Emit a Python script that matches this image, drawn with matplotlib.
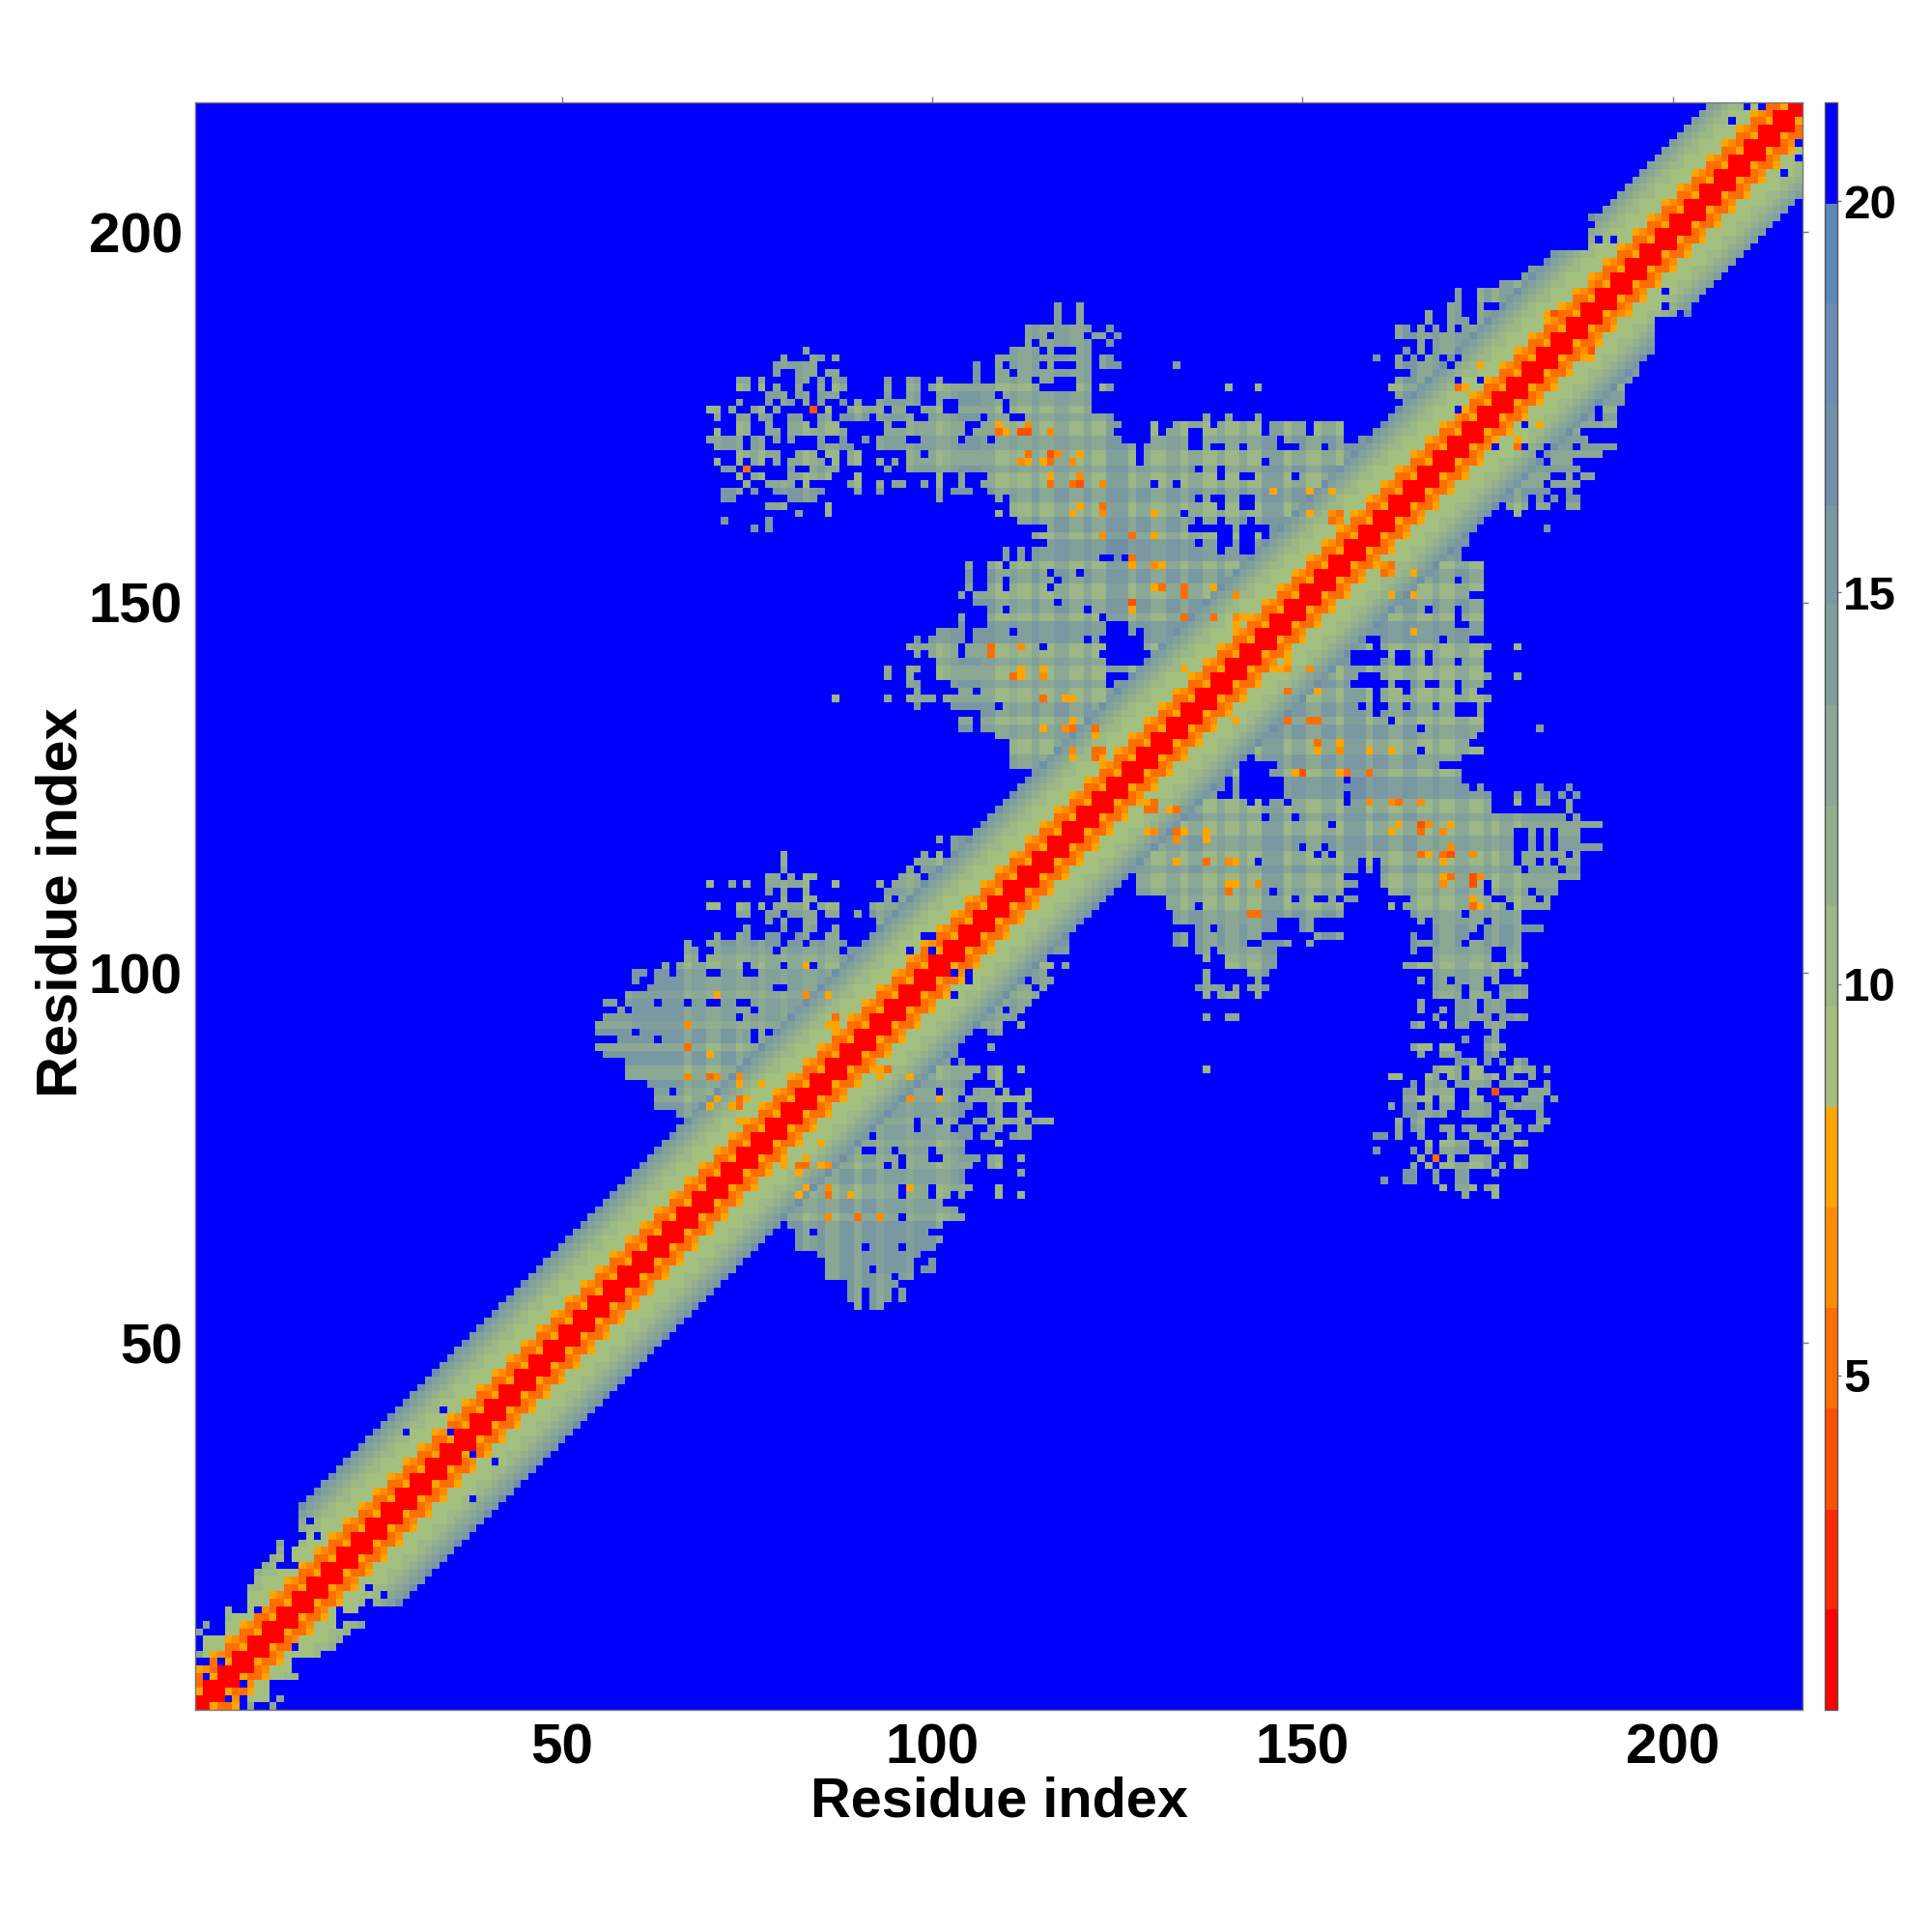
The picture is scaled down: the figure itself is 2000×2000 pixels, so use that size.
import numpy as np
import matplotlib
matplotlib.use('Agg')
import matplotlib.pyplot as plt
from matplotlib.colors import ListedColormap, BoundaryNorm
from matplotlib.cm import ScalarMappable

plt.rcParams['font.family'] = ['Liberation Sans', 'DejaVu Sans']
plt.rcParams['font.weight'] = 'bold'

N_RES = 217
LEVELS = [0.73, 2.01, 3.29, 4.58, 5.86, 7.14, 8.43, 9.71, 10.99, 12.27, 13.56,
          14.84, 16.12, 17.41, 18.69, 19.97, 21.26]
COLOURS = ['#FF0000', '#FF2800', '#FF5000', '#FF6E00', '#FF8C00', '#FFA500',
           '#A3C07F', '#9BB886', '#93B08D', '#8AA894', '#82A09B', '#7A98A2',
           '#7090AA', '#6A8CB2', '#5B88B8', '#0000FF']
FAR = 21.0

# distance by offset from the diagonal, two values because it alternates
BAND_DIST = [(1.4, 1.4), (1.4, 1.4), (1.4, 7.8), (5.2, 5.2), (6.5, 5.2), (9.0, 7.8),
             (9.0, 9.0), (9.0, 9.0), (9.0, 10.3), (10.3, 10.3), (11.6, 11.6),
             (12.9, 12.9), (14.2, 14.2), (15.5, 16.8)]
# last residue reached by the band for residues 1..14
EARLY_REACH = [6, 10, 10, 10, 14, 13, 13, 17, 19, 20, 21, 23, 19, 22]

# per residue shade of the contact patches, 0 light .. 9 dark
RES_SHADE = ("3333333333" "3333333333" "3333333333" "3333333333" "3333333333"
             "4444444445" "5555551441" "1441241442" "4412411551" "5524442444"
             "1245554411" "3114114411" "4116661441" "1441551141" "1411666155"
             "1155166615" "5115511411" "4411414414" "4444444444" "3333333333"
             "3333333333" "3333333")

# row residue -> columns right of the diagonal
LOWER_ROWS = {
    1: "8 11", 2: "12",
    70: "172 176", 71: "169 171-173 175-176", 72: "161 164-165 168 171-172",
    73: "164-165 168 171-172 176", 74: "165 167 169-175 177 179-180",
    75: "166 168 170 173-175 179-180", 76: "160 165 167 169-172 176",
    77: "167 169-172 175-176 179-180", 78: "160-161 163 166 170 173-175 177-178",
    79: "163 165-166 169-170 172-173 176 178-179 181-182", 80: "163 165-166 177-178 182-183",
    81: "164-169 172-175 177 182", 82: "162 164-165 167 169-170 173-175 178-182",
    83: "164-167 169-170 173-174 177-178 180-182 184", 84: "164-165 167-170 173 176 181-183",
    85: "165 167-169 171-175 177-180 183", 86: "162-163 167-168 170-171 173-176 178 181",
    87: "137 168-171 173-174 178-181 183", 88: "171-173 175 177 179-180",
    89: "166 169-171 175-176", 90: "165-167 169-170 175-177", 91: "172 175-176", 92: "176",
    93: "165-166 169 171-172 175-177", 94: "137 140-141 168 171-175 177-180",
    95: "166 169 171-173 175-177", 96: "166 171-173 175-177",
    97: "137 139-141 144 168-171 173-175 177-180", 98: "136-139 141 143-145 168-171 173-174 177-180",
    99: "137 144 166 168-169 171-174 176", 100: "137 143-145 168-176 179",
    101: "140-146 164-180", 102: "137 140-146 168-175 178-179",
    103: "136-137 139-146 165 168-175 178-179", 104: "133-134 136-142 145-148 151 165-171 173-179",
    105: "133-134 136-144 152-155 165 168-172 175-179", 106: "136-137 139-146 150-151 168-173 175-182",
    107: "133-146 150-151 166 168-174 176-179", 108: "133-155 165-171 173-179",
    109: "132-135 137-155 162 164-177 179-183", 110: "132-148 150-151 154 156-157 165-175 178-181 183",
    111: "129-145 147-155 162-174 176-180 182-184", 112: "129-157 161-174 176-184",
    113: "129-155 161-187", 114: "129-157 159 161-179 181-184 186-187",
    115: "129-143 145-157 159 161-178 180-181 183 185-187", 116: "129-151 153 155-178 180-185 187",
    117: "129-149 151-152 154-178 181 183 185-190", 118: "129-178 181 183 185-187",
    119: "129-178 181 183 185-187", 120: "129-153 155-190", 121: "129-144 146-148 150-185 187",
    122: "129-175 186", 123: "129-142 144 146-147 149-155 157-175 179 182-183 186",
    124: "129-138 141 148-155 157-175 179 182-183 185 187", 125: "129-139 141 148-172 174 182 186",
    126: "129-139 141 148-155 157-171", 127: "129-139 141 146-155 157-171",
    128: "129-141 147-168", 129: "130-142 144-171",
    169: "170-186", 170: "171-190", 171: "172-190 192", 172: "173-188", 173: "174-187",
    174: "175-192", 175: "176-189 191-192", 176: "177-189 191-192", 177: "178-193",
    178: "179-193", 179: "180-193", 180: "181-194", 181: "182-190 192-195", 182: "183-190 192-195",
    183: "184-196", 184: "185-189 192-197", 185: "186-189 192-197", 186: "187-196", 187: "188-196",
    188: "189-196", 189: "190-194 196 199-200", 190: "191-201", 191: "192-202",
}

# row residue -> columns left of the diagonal, an open end runs up to the band
UPPER_ROWS = {
    80: "67-", 81: "66-76 78-", 82: "63-", 83: "63-", 84: "63-64 66-", 85: "62-", 86: "59-", 87: "59-",
    88: "59-", 89: "56-", 90: "55-", 91: "58-62 64-75 77 79-", 92: "55-59 61-75 77 79-", 93: "55-",
    94: "56-73 75-", 95: "58 60-75 77-", 96: "56-57 59-62 64-66 68-69 72-73 76-", 97: "59-",
    98: "62-78 81-", 99: "60 63-", 100: "60-61 63-64 66-69 72-74 77-", 101: "64 66-74 76-79 81-83 85-",
    102: "67-68 70-", 103: "67-68 71-78 80-87 89-97 99-100 102-", 104: "67 70-79 81-82 84-88 92-",
    105: "71 74-75 78-79 82-83 86-87 92-98 101-", 106: "75 80 83-84 87 93-", 107: "78 80 83-84 93-100 103-",
    108: "74-75 78-79 81-84 86-87 90 92-97 99-100 102-", 109: "70-71 74-75 77 79-83 85-87 92-100 102-103 105-",
    110: "80 83-84 94 96-97 99-", 111: "78 80 83 94-", 112: "70 73 75 78-83 87 93 95-102 104-",
    113: "78-79 81 83-84 96-98 100 102-", 114: "80 97 99-", 115: "80 98-", 116: "80 99 101 103-",
    117: "103-", 118: "101 103-", 127: "114-", 128: "111-",
    174: "130 133-137 139-144 146-150 152-155 161-", 175: "137 140 144 163-", 176: "164-170 172-",
    177: "165-", 178: "163-", 179: "140 144 162-", 180: "163-170 172-173 175-", 181: "165-",
    182: "133 163-169 171-", 183: "160 163 165 167-168 170 172-", 184: "164 166 168-", 185: "166 168-",
    186: "163-", 187: "163-164 166 168 170 172 174-", 188: "167 170-171 174-", 189: "167 170-171 174-",
    190: "174 177-183 186-", 191: "171 174-180 183 186-", 192: "177-", 193: "177-", 194: "180-",
    195: "181 183-187 190-", 196: "183-187 189-", 197: "184-185 188 190-",
}

# central patch: rows 144..173 are filled from residue 130 to the band, minus these
CORE_FIRST_COL = 130
CORE_ROWS = (144, 173)
CORE_HOLES = {
    173: "131 135-136 145 151 156-159", 172: "135-136 147 156-157 159", 171: "135-136 138-139 142 147-149 153",
    169: "145", 168: "136 139", 167: "139 142-143 149", 166: "130 133", 164: "136 138-139 142-143",
    163: "139 142-143", 162: "134", 161: "136 139 143", 160: "135-140 142-145 147",
    159: "139-140 142-143 145", 158: "136 139-140 142-143", 157: "139 142-143", 156: "143",
    149: "146", 145: "132",
}

# single blue cells (col, row)
HOLES = [(212, 217), (210, 217), (208, 215), (34, 41), (29, 38), (35, 38), (5, 2), (7, 2), (7, 4), (2, 7), (4, 7),
         (9, 14), (12, 20), (13, 20), (14, 20), (14, 23), (15, 24), (16, 26), (17, 24), (186, 199), (187, 199),
         (188, 199), (190, 199), (192, 199), (187, 200), (188, 200), (188, 201), (189, 201), (185, 198), (186, 198),
         (187, 198), (188, 198), (171, 176), (171, 180), (171, 183), (171, 187), (170, 182), (169, 183), (174, 180),
         (84, 101), (103, 97), (103, 100), (105, 100), (105, 99), (101, 84), (104, 83), (105, 88), (105, 89), (105, 90)]

# cells far below their surroundings (col, row, distance)
HOT_CELLS = [
    (83, 101, 7.8), (71, 97, 7.8), (83, 97, 6.5), (86, 97, 7.8), (87, 94, 5.2), (86, 93, 6.5), (87, 93, 7.8),
    (67, 93, 6.5), (67, 90, 5.2), (70, 89, 7.8), (67, 86, 6.5), (70, 86, 5.2), (71, 86, 6.5), (74, 86, 6.5),
    (74, 85, 7.8), (77, 85, 7.8), (71, 83, 7.8), (74, 83, 5.2), (75, 83, 7.8), (70, 82, 7.8), (73, 82, 7.8),
    (74, 82, 5.2), (77, 82, 7.8), (74, 80, 7.8), (87, 93, 7.8), (93, 87, 7.8), (94, 87, 5.2), (86, 93, 7.8),
    (97, 86, 7.8), (97, 83, 6.5), (101, 83, 7.8),
    (127, 155, 7.8), (127, 156, 5.2), (127, 159, 5.2), (123, 159, 6.5), (123, 162, 6.5), (123, 163, 5.2),
    (123, 166, 6.5), (120, 163, 7.8), (120, 166, 3.9), (120, 167, 6.5), (120, 170, 7.8), (119, 162, 7.8),
    (119, 166, 5.2), (119, 169, 6.5), (117, 170, 6.5), (116, 166, 5.2), (116, 167, 7.8), (116, 169, 5.2),
    (116, 170, 3.9), (116, 173, 6.5), (115, 169, 7.8), (113, 169, 7.8), (113, 170, 5.2), (113, 173, 3.9),
    (113, 174, 6.5), (112, 169, 6.5), (112, 173, 3.9), (110, 173, 7.8), (109, 173, 5.2), (109, 174, 7.8),
    (75, 168, 5.2), (84, 176, 3.9),
    (123, 129, 7.8), (123, 130, 5.2), (122, 129, 5.2), (122, 130, 5.2), (122, 132, 7.8), (122, 133, 5.2),
    (119, 129, 7.8), (119, 130, 6.5), (119, 133, 5.2), (119, 134, 7.8), (119, 137, 7.8), (118, 137, 7.8),
    (118, 133, 6.5), (115, 133, 7.8), (115, 137, 5.2), (115, 140, 6.5), (115, 141, 7.8), (112, 140, 7.8),
    (112, 141, 7.8), (112, 144, 6.5), (111, 140, 5.2), (108, 143, 5.2), (108, 144, 5.2),
    (130, 162, 7.8), (130, 159, 7.8), (130, 155, 6.5), (131, 155, 7.8), (130, 152, 7.8), (131, 152, 5.2),
    (134, 152, 5.2), (134, 151, 5.2), (138, 152, 7.8), (141, 151, 6.5), (145, 150, 7.8), (134, 148, 5.2),
    (138, 148, 5.2), (141, 148, 5.2), (142, 148, 6.5), (141, 147, 7.8), (134, 141, 7.8), (138, 148, 5.2),
    (141, 134, 7.8), (148, 138, 5.2), (152, 138, 7.8), (148, 134, 5.2), (151, 134, 5.2), (152, 134, 5.2),
    (152, 131, 5.2), (152, 130, 7.8), (155, 131, 7.8), (155, 130, 6.5), (159, 130, 7.8), (162, 130, 7.8),
    (148, 142, 7.8), (148, 141, 6.5), (151, 141, 6.5), (162, 151, 7.8), (161, 155, 6.5), (162, 155, 5.2),
    (161, 154, 6.5), (162, 154, 7.8), (154, 162, 6.5), (155, 162, 5.2), (154, 161, 5.2), (151, 162, 7.8),
    (146, 165, 7.8), (151, 165, 7.8), (154, 165, 7.8), (127, 150, 3.9), (127, 149, 7.8),
    (174, 182, 7.8), (171, 179, 5.2), (172, 179, 7.8), (172, 176, 7.8), (171, 175, 6.5), (182, 174, 7.8),
    (179, 172, 7.8), (179, 171, 5.2), (189, 184, 5.2), (189, 183, 7.8), (184, 189, 3.9), (193, 189, 6.5),
]


def parse_cols(text, row):
    cols = []
    for part in text.split():
        if part.endswith('-'):
            cols.extend(range(int(part[:-1]), row))
        elif '-' in part:
            lo, hi = part.split('-')
            cols.extend(range(int(lo), int(hi) + 1))
        else:
            cols.append(int(part))
    return cols


def build_matrix():
    shade = [int(c) for c in RES_SHADE]
    mat = np.full((N_RES, N_RES), FAR)

    def patch(a, b):
        val = 9.5 + 0.5 * (shade[a - 1] + shade[b - 1]) * 1.2
        mat[a - 1, b - 1] = val
        mat[b - 1, a - 1] = val

    for row, text in LOWER_ROWS.items():
        for col in parse_cols(text, row):
            patch(row, col)
    for row, text in UPPER_ROWS.items():
        for col in parse_cols(text, row):
            patch(col, row)
    for row in range(CORE_ROWS[0], CORE_ROWS[1] + 1):
        skip = parse_cols(CORE_HOLES.get(row, ""), row)
        for col in range(CORE_FIRST_COL, row - 13):
            if col not in skip:
                patch(col, row)

    # band along the diagonal
    for a in range(1, N_RES + 1):
        for off, pair in enumerate(BAND_DIST):
            b = a + off
            if b > N_RES:
                continue
            if a <= len(EARLY_REACH) and b > EARLY_REACH[a - 1]:
                continue
            if a >= 190 and off > 12:
                continue
            mat[a - 1, b - 1] = pair[a % 2]
            mat[b - 1, a - 1] = pair[a % 2]

    for a, b, dist in HOT_CELLS:
        mat[a - 1, b - 1] = dist
        mat[b - 1, a - 1] = dist
    for a, b in HOLES:
        mat[a - 1, b - 1] = FAR
        mat[b - 1, a - 1] = FAR
    return mat


W = 2000.0
fig = plt.figure(figsize=(20, 20), dpi=100)
ax = fig.add_axes([202 / W, 1 - 1770 / W, (1866 - 202) / W, (1770 - 106) / W])
cax = fig.add_axes([1889 / W, 1 - 1770 / W, 13 / W, (1770 - 106) / W])

cmap = ListedColormap(COLOURS)
norm = BoundaryNorm(LEVELS, cmap.N)
ax.imshow(build_matrix(), origin='lower', cmap=cmap, norm=norm, interpolation='nearest',
          extent=(0.5, N_RES + 0.5, 0.5, N_RES + 0.5), aspect='auto')

ax.set_xticks([50, 100, 150, 200])
ax.set_yticks([50, 100, 150, 200])
ax.tick_params(axis='both', which='both', top=True, right=True, bottom=False, left=False,
               length=4.5, width=1, color='#777777', labelsize=42, pad=5)
ax.set_xlabel('Residue index', fontsize=41.5, fontweight='bold')
ax.set_ylabel('Residue index', fontsize=42.8, fontweight='bold')
ax.xaxis.set_label_coords(0.5, -0.0575)
ax.yaxis.set_label_coords(-0.083, 0.502)
ax.xaxis.label.set_verticalalignment('center')
ax.yaxis.label.set_verticalalignment('center')
for side in ax.spines.values():
    side.set_color('#777777')
    side.set_linewidth(1)

cb = fig.colorbar(ScalarMappable(norm=norm, cmap=cmap), cax=cax, ticks=[5, 10, 15, 20],
                  spacing='proportional', drawedges=False)
cb.ax.minorticks_off()
cb.ax.tick_params(length=3, width=1, color='#777777', labelsize=35.5, pad=1.5)
cb.outline.set_edgecolor('#555555')
cb.outline.set_linewidth(1)

fig.savefig('out.png', dpi=100, facecolor='white')
